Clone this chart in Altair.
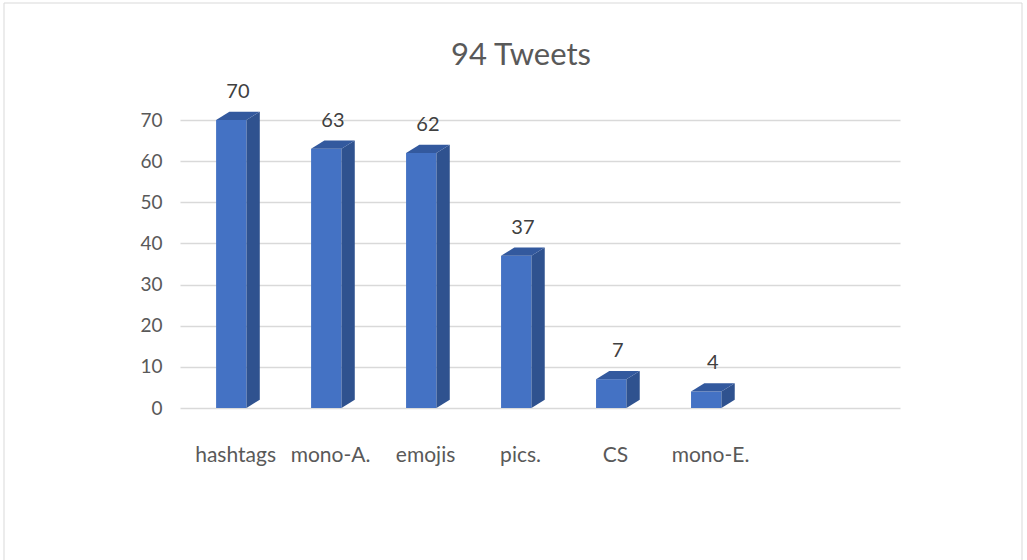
import altair as alt
import pandas as pd

# ---- data ----
categories = ["hashtags", "mono-A.", "emojis", "pics.", "CS", "mono-E."]
counts = [70, 63, 62, 37, 7, 4]
y_ticks = [0, 10, 20, 30, 40, 50, 60, 70]
title_text = "94 Tweets"

# pseudo-3D geometry (in data units)
FL, FR, SR, DEPTH = -0.20, 0.12, 0.26, 2.0

front = pd.DataFrame({
    "idx": list(range(len(categories))),
    "cat": categories,
    "val": counts,
})
front["x0"] = front["idx"] + FL
front["x1"] = front["idx"] + FR
front["ytop"] = front["val"] + DEPTH

side_rows, top_rows = [], []
for i, (c, v) in enumerate(zip(categories, counts)):
    side_rows.append({"cat": c, "x": i + FR, "y": 0, "y2": v})
    side_rows.append({"cat": c, "x": i + SR, "y": DEPTH, "y2": v + DEPTH})
    dx = SR - FR
    top_rows.append({"cat": c, "x": i + FL, "y": v, "y2": v})
    top_rows.append({"cat": c, "x": i + FL + dx, "y": v, "y2": v + DEPTH})
    top_rows.append({"cat": c, "x": i + FR, "y": v, "y2": v + DEPTH})
    top_rows.append({"cat": c, "x": i + SR, "y": v + DEPTH, "y2": v + DEPTH})
side = pd.DataFrame(side_rows)
top = pd.DataFrame(top_rows)
title_df = pd.DataFrame({"t": [title_text]})

labels_js = "[" + ",".join("'" + c + "'" for c in categories) + "]"

xscale = alt.Scale(domain=[-0.58, 7.0], nice=False, zero=False)
yscale = alt.Scale(domain=[0, 70], nice=False)

xaxis = alt.Axis(
    values=list(range(len(categories))),
    labelExpr=labels_js + "[datum.value]",
    title=None, domain=False, ticks=False, grid=False,
    labelFontSize=21, labelColor="#595959", labelPadding=36,
    labelFont="Lato",
)
yaxis = alt.Axis(
    values=y_ticks, title=None, domain=False, ticks=False,
    labelFontSize=19, labelColor="#595959", labelPadding=18,
    gridColor="#D9D9D9", gridWidth=1.5, labelFont="Lato",
)

bars = alt.Chart(front).mark_bar(color="#4472C4").encode(
    x=alt.X("x0:Q", scale=xscale, axis=xaxis),
    x2="x1:Q",
    y=alt.Y("val:Q", scale=yscale, axis=yaxis),
    y2=alt.datum(0),
)

sides = alt.Chart(side).mark_area(color="#2F528F", interpolate="linear").encode(
    x=alt.X("x:Q", scale=xscale),
    y=alt.Y("y:Q", scale=yscale),
    y2="y2:Q",
    detail="cat:N",
)

tops = alt.Chart(top).mark_area(color="#33599E", interpolate="linear").encode(
    x=alt.X("x:Q", scale=xscale),
    y=alt.Y("y:Q", scale=yscale),
    y2="y2:Q",
    detail="cat:N",
)

text = alt.Chart(front).transform_calculate(
    xc="datum.idx + 0.03"
).mark_text(
    baseline="bottom", dy=-10, fontSize=20, color="#404040", font="Lato"
).encode(
    x=alt.X("xc:Q", scale=xscale),
    y=alt.Y("ytop:Q", scale=yscale),
    text="val:Q",
)

title = alt.Chart(title_df).mark_text(
    fontSize=31, color="#595959", font="Lato", align="center",
    baseline="alphabetic",
).encode(
    x=alt.value(341), y=alt.value(-55), text="t:N",
)

frame = alt.Chart(title_df).mark_rect(
    fill="transparent", stroke="#D9D9D9", strokeWidth=1
).encode(
    x=alt.value(-176), x2=alt.value(842),
    y=alt.value(-117), y2=alt.value(600),
)

chart = alt.layer(bars, sides, tops, text, title, frame).properties(
    width=720,
    height=288,
    autosize=alt.AutoSizeParams(type="none"),
    padding={"left": 180, "top": 120, "right": 127, "bottom": 152},
).configure(background="white").configure_view(stroke=None, strokeWidth=0)

chart.save("out.html", embed_options={"renderer": "svg", "actions": False})
